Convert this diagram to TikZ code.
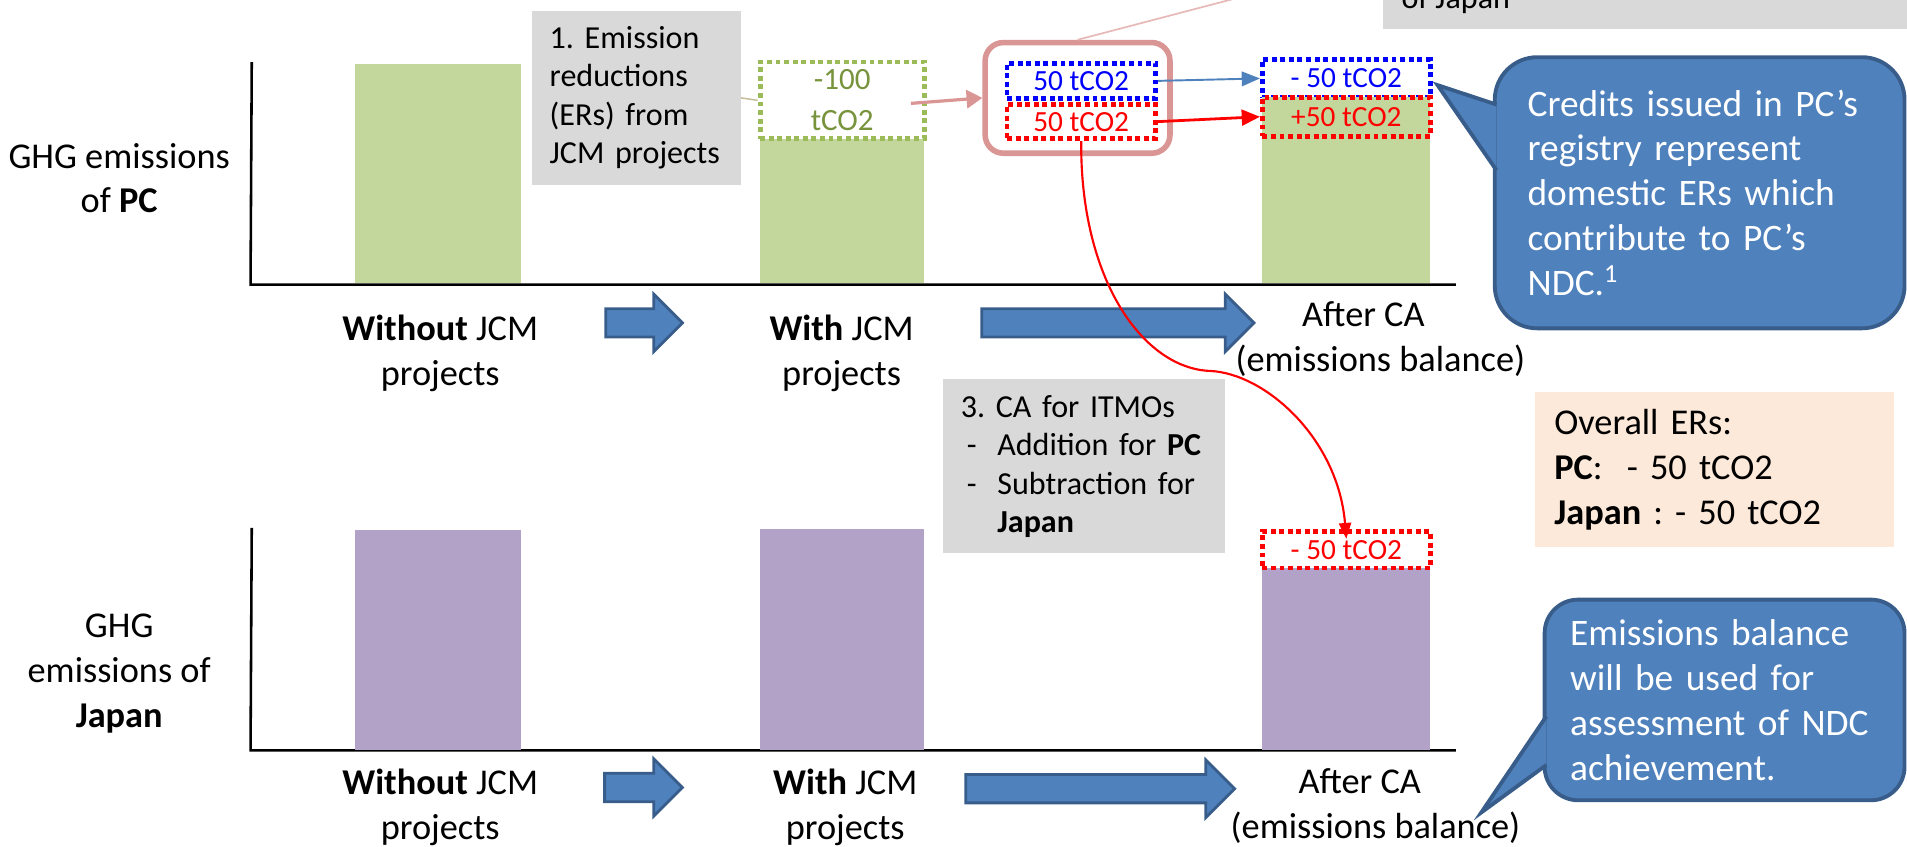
\documentclass[tikz,border=0pt]{standalone}
\usepackage{fontspec}
\setmainfont{Carlito}
\usepackage{xcolor}
\usepackage{tikz}
\usetikzlibrary{arrows.meta,shapes.arrows,calc}
\definecolor{pcgreen}{HTML}{C3D69B}
\definecolor{jppurple}{HTML}{B3A2C7}
\definecolor{notegray}{HTML}{D9D9D9}
\definecolor{ergreen}{HTML}{9BBB59}
\definecolor{ergreentext}{HTML}{77933C}
\definecolor{pinkline}{HTML}{D99694}
\definecolor{linkpink}{HTML}{E6B9B8}
\definecolor{tanline}{HTML}{C4BD97}
\definecolor{arrowblue}{HTML}{4F81BD}
\definecolor{arrowdark}{HTML}{385D8A}
\definecolor{peach}{HTML}{FDE9D9}
\tikzstyle{pc bar}=[fill=pcgreen, inner sep=0pt]
\tikzstyle{jp bar}=[fill=jppurple, inner sep=0pt]
\tikzstyle{axis line}=[-, draw=black, line width=1.2pt]
\tikzstyle{axis text}=[align=center, inner sep=0pt, font=\fontsize{17}{21}\selectfont]
\tikzstyle{grey note}=[fill=notegray, align=left, inner ysep=0pt, inner xsep=0.3cm, font=\fontsize{15}{18}\selectfont]
\tikzstyle{peach note}=[fill=peach, align=left, inner ysep=0pt, inner xsep=0.32cm, font=\fontsize{17}{21}\selectfont]
\tikzstyle{tco box}=[line width=2.3pt, dash pattern=on 2.3pt off 1.7pt, inner sep=0pt, font=\fontsize{13.7}{16}\selectfont]
\tikzstyle{blue box}=[style=tco box, draw=blue, text=blue, fill=white]
\tikzstyle{red box}=[style=tco box, draw=red, text=red, fill=white]
\tikzstyle{er box}=[style=tco box, draw=ergreen, text=ergreentext, fill=white, align=center, font=\fontsize{14.5}{19}\selectfont]
\tikzstyle{ca frame}=[draw=pinkline, line width=2.6pt, rounded corners=0.3cm]
\tikzstyle{block arrow}=[single arrow, anchor=tail, fill=arrowblue, draw=arrowdark, line width=1.3pt, inner xsep=0pt, inner ysep=0.21cm, single arrow head extend=0.24cm]
\tikzstyle{callout body}=[fill=arrowblue, draw=arrowdark, line width=1.8pt, text=white, align=left, inner ysep=0pt, font=\fontsize{17.5}{21}\selectfont]
\tikzstyle{callout tail}=[fill=arrowblue, draw=arrowdark, line width=1.8pt]
\tikzstyle{blue edge}=[-{Triangle[length=0.3cm,width=0.24cm]}, draw=arrowblue, line width=0.9pt]
\tikzstyle{red edge}=[-{Triangle[length=0.3cm,width=0.26cm]}, draw=red, line width=1.3pt]
\tikzstyle{curve edge}=[-{Triangle[length=0.26cm,width=0.2cm]}, draw=red, line width=1pt]
\tikzstyle{pink edge}=[-{Triangle[length=0.26cm,width=0.3cm]}, draw=pinkline, line width=1.5pt]
\tikzstyle{thin pink edge}=[-, draw=linkpink, line width=0.8pt]
\tikzstyle{tan edge}=[-, draw=tanline, line width=0.7pt]
\pgfdeclarelayer{nodelayer}
\pgfdeclarelayer{edgelayer}
\pgfsetlayers{main,nodelayer,edgelayer}

\begin{document}
\frenchspacing
\begin{tikzpicture}[x=0.02cm, y=-0.02cm]
	\useasboundingbox (0,0) rectangle (1568,696);
	\begin{pgfonlayer}{nodelayer}
		% emissions of PC
		\draw [style=axis line] (207,51) -- (206,234) -- (1197,234);
		\node [style=pc bar, minimum width=2.72cm, minimum height=3.6cm] (pcbar1) at (360,143) {};
		\node [style=pc bar, minimum width=2.7cm, minimum height=2.38cm] (pcbar2) at (692.5,173.5) {};
		\node [style=pc bar, minimum width=2.76cm, minimum height=2.42cm] (pcbar3) at (1107,172.5) {};
		\node [style=er box, minimum width=2.7cm, minimum height=1.26cm] (erbox) at (692.5,82.5) {-100\\tCO2};
		\node [style=grey note, text width=2.84cm, minimum height=2.86cm] (ernote) at (523,80.5) {1. Emission\\reductions\\(ERs) from\\JCM~projects};
		\node [style=ca frame, minimum width=3.04cm, minimum height=1.82cm] (caframe) at (886,80.5) {};
		\node [style=blue box, minimum width=2.44cm, minimum height=0.58cm] (itmo) at (889,66.5) {50 tCO2};
		\node [style=red box, minimum width=2.44cm, minimum height=0.56cm] (credit) at (889,100) {50 tCO2};
		\node [style=blue box, minimum width=2.76cm, minimum height=0.62cm] (pcminus) at (1107,64.5) {- 50 tCO2};
		\node [style=red box, fill=pcgreen, minimum width=2.76cm, minimum height=0.64cm] (pcplus) at (1107,96) {+50 tCO2};
		\node [style=axis text] (pcaxis) at (98,146.5) {GHG emissions\\of \textbf{PC}};
		\node [style=axis text] (pcwithout) at (362,290.5) {\textbf{Without} JCM\\projects};
		\node [style=axis text] (pcwith) at (692,290.5) {\textbf{With} JCM\\projects};
		\node [style=axis text] (pcafter) at (1135,278.5) {After CA\hspace*{0.56cm}\\(emissions balance)};
		\node [style=block arrow, minimum height=1.26cm] (pcstep1) at (497,265.5) {};
		\node [style=block arrow, minimum height=4.48cm] (pcstep2) at (806,265.5) {};

		% emissions of Japan
		\draw [style=axis line] (207,434) -- (206,617) -- (1197,617);
		\node [style=jp bar, minimum width=2.72cm, minimum height=3.62cm] (jpbar1) at (360,526.5) {};
		\node [style=jp bar, minimum width=2.7cm, minimum height=3.64cm] (jpbar2) at (692.5,526) {};
		\node [style=jp bar, minimum width=2.76cm, minimum height=3.0cm] (jpbar3) at (1107,542) {};
		\node [style=red box, minimum width=2.76cm, minimum height=0.6cm] (jpminus) at (1107,452) {- 50 tCO2};
		\node [style=axis text] (jpaxis) at (98,554) {GHG\\emissions of\\\textbf{Japan}};
		\node [style=axis text] (jpwithout) at (362,664) {\textbf{Without} JCM\\projects};
		\node [style=axis text] (jpwith) at (695,664) {\textbf{With} JCM\\projects};
		\node [style=axis text] (jpafter) at (1131,662.5) {After CA\hspace*{0.52cm}\\(emissions balance)};
		\node [style=block arrow, minimum height=1.28cm] (jpstep1) at (496,647.5) {};
		\node [style=block arrow, minimum height=4.42cm] (jpstep2) at (793,648.5) {};

		% notes
		\node [style=grey note, text width=4.04cm, minimum height=2.86cm] (canote) at (891,383.5) {3. CA for ITMOs\\\makebox[0.6cm][l]{\hspace{0.1cm}-}Addition for \textbf{PC}\\\makebox[0.6cm][l]{\hspace{0.1cm}-}Subtraction for\\\hspace*{0.6cm}\textbf{Japan}};
		\node [style=peach note, text width=5.26cm, minimum height=2.56cm] (overall) at (1409.5,386) {Overall ERs:\\\textbf{PC}:~~- 50 tCO2\\\textbf{Japan} : - 50 tCO2};
		\node [fill=notegray, minimum width=8.76cm, minimum height=2.28cm] (jpnote) at (1356,-33) {};
		\node [anchor=base west, inner sep=0pt, font=\fontsize{15}{18}\selectfont] (jpnotetext) at (1152,7) {of Japan};

		% callouts
		\node [style=callout body, rounded corners=0.7cm, inner xsep=0.54cm, text width=5.66cm, minimum height=4.46cm] (pcnote) at (1397.5,158.5) {Credits issued in PC’s\\registry represent\\domestic ERs which\\contribute to PC’s\\NDC.\textsuperscript{1}};
		\coordinate (pctip) at (1182,70);
		\filldraw [style=callout tail] ($(pcnote.west)+(3,-72.5)$) -- (pctip) -- ($(pcnote.west)+(3,-18.5)$);
		\node [style=callout body, rounded corners=0.55cm, inner xsep=0.42cm, text width=5.08cm, minimum height=3.3cm] (balnote) at (1418,575.5) {Emissions balance\\will be used for\\assessment of NDC\\achievement.};
		\coordinate (baltip) at (1218,668);
		\filldraw [style=callout tail] ($(balnote.west)+(3,13.5)$) -- (baltip) -- ($(balnote.west)+(3,53.5)$);
	\end{pgfonlayer}
	\begin{pgfonlayer}{edgelayer}
		\draw [style=tan edge] (ernote.east) to (erbox.west);
		\draw [style=pink edge] ($(erbox.east)+(-13,2.5)$) to (caframe.west);
		\draw [style=thin pink edge] (caframe.north) to (jpnote.west);
		\draw [style=blue edge] (itmo.east) to (pcminus.west);
		\draw [style=red edge] (credit.east) to (pcplus.west);
		\draw [style=curve edge] (credit.south) .. controls (888,230) and (940,303) .. (995,305) .. controls (1040,307) and (1100,360) .. ([yshift=-0.16cm]jpminus.north);
	\end{pgfonlayer}
\end{tikzpicture}
\end{document}
